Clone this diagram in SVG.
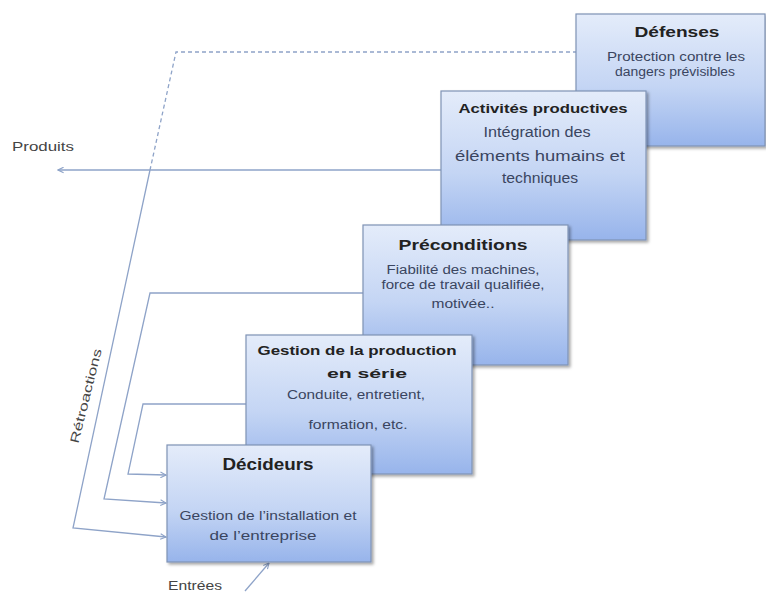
<svg xmlns="http://www.w3.org/2000/svg" width="766" height="592" viewBox="0 0 766 592">
<defs>
<linearGradient id="g" x1="0" y1="0" x2="0" y2="1">
<stop offset="0" stop-color="#e4ecfa"/>
<stop offset="0.55" stop-color="#c4d5f4"/>
<stop offset="1" stop-color="#97b4eb"/>
</linearGradient>
<filter id="sh" x="-10%" y="-10%" width="130%" height="130%">
<feDropShadow dx="2" dy="2" stdDeviation="1.5" flood-color="#000" flood-opacity="0.35"/>
</filter>
<marker id="ah" viewBox="0 0 10 10" refX="9" refY="5" markerWidth="7" markerHeight="7" orient="auto" markerUnits="userSpaceOnUse">
<path d="M1,1 L9,5 L1,9" fill="none" stroke="#8ea3c8" stroke-width="1.6"/>
</marker>
</defs>
<style>
.box{fill:url(#g);stroke:#7f93b5;stroke-width:1.2;filter:url(#sh)}
.t{font-family:"Liberation Sans",Arial,sans-serif;font-weight:bold;fill:#222;text-anchor:middle}
.b{font-family:"Liberation Sans",Arial,sans-serif;fill:#3a4560;text-anchor:middle}
.lbl{font-family:"Liberation Sans",Arial,sans-serif;fill:#444;font-size:12.5px}
.c{fill:none;stroke:#8ea3c8;stroke-width:1.3}
</style>
<rect width="766" height="592" fill="#fff"/>
<g id="connectors">
<path class="c" d="M577,52 H176 L150,170" stroke-dasharray="4,3"/>
<path class="c" d="M150,170 L73,528 L166,537" marker-end="url(#ah)"/>
<path class="c" d="M363,293 H150 L104,499 L166,503" marker-end="url(#ah)"/>
<path class="c" d="M246,404 H143 L128,474 L166,475" marker-end="url(#ah)"/>
<path class="c" d="M441,170 H58" marker-end="url(#ah)"/>
<path class="c" d="M245,591 L269,563" marker-end="url(#ah)"/>
</g>
<g id="defenses">
<rect class="box" x="576" y="14" width="189" height="132"/>
<text class="t" x="677" y="37" font-size="15" textLength="85" lengthAdjust="spacingAndGlyphs">Défenses</text>
<text class="b" x="676" y="61" font-size="12" textLength="138" lengthAdjust="spacingAndGlyphs">Protection contre les</text>
<text class="b" x="675" y="76" font-size="12" textLength="120" lengthAdjust="spacingAndGlyphs">dangers prévisibles</text>
</g>
<g id="activites">
<rect class="box" x="441" y="91" width="205" height="149"/>
<text class="t" x="543" y="113" font-size="13.5" textLength="169" lengthAdjust="spacingAndGlyphs">Activités productives</text>
<text class="b" x="537" y="137" font-size="14" textLength="107" lengthAdjust="spacingAndGlyphs">Intégration des</text>
<text class="b" x="540" y="161" font-size="14" textLength="170" lengthAdjust="spacingAndGlyphs">éléments humains  et</text>
<text class="b" x="540" y="183" font-size="14" textLength="76" lengthAdjust="spacingAndGlyphs">techniques</text>
</g>
<g id="preconditions">
<rect class="box" x="363" y="225" width="205" height="140"/>
<text class="t" x="463" y="250" font-size="15" textLength="129" lengthAdjust="spacingAndGlyphs">Préconditions</text>
<text class="b" x="463" y="274" font-size="12" textLength="153" lengthAdjust="spacingAndGlyphs">Fiabilité des machines,</text>
<text class="b" x="463" y="289" font-size="12" textLength="163" lengthAdjust="spacingAndGlyphs">force de travail qualifiée,</text>
<text class="b" x="463" y="308" font-size="12" textLength="63" lengthAdjust="spacingAndGlyphs">motivée..</text>
</g>
<g id="gestion">
<rect class="box" x="246" y="335" width="226" height="139"/>
<text class="t" x="357" y="355" font-size="13" textLength="199" lengthAdjust="spacingAndGlyphs">Gestion de la production</text>
<text class="t" x="367" y="378" font-size="13" textLength="80" lengthAdjust="spacingAndGlyphs">en série</text>
<text class="b" x="356" y="399" font-size="12" textLength="138" lengthAdjust="spacingAndGlyphs">Conduite, entretient,</text>
<text class="b" x="358" y="429" font-size="12" textLength="99" lengthAdjust="spacingAndGlyphs">formation, etc.</text>
</g>
<g id="decideurs">
<rect class="box" x="167" y="445" width="204" height="117"/>
<text class="t" x="268" y="470" font-size="16" textLength="91" lengthAdjust="spacingAndGlyphs">Décideurs</text>
<text class="b" x="268" y="520" font-size="12" textLength="177" lengthAdjust="spacingAndGlyphs">Gestion de l’installation et</text>
<text class="b" x="263" y="540" font-size="12" textLength="107" lengthAdjust="spacingAndGlyphs">de l’entreprise</text>
</g>
<g id="labels">
<text class="lbl" x="12" y="151" textLength="62" lengthAdjust="spacingAndGlyphs">Produits</text>
<text class="lbl" x="168" y="590" textLength="54" lengthAdjust="spacingAndGlyphs">Entrées</text>
<text class="lbl" text-anchor="middle" transform="translate(90,397) rotate(-76)" textLength="97" lengthAdjust="spacingAndGlyphs">Rétroactions</text>
</g>
</svg>
